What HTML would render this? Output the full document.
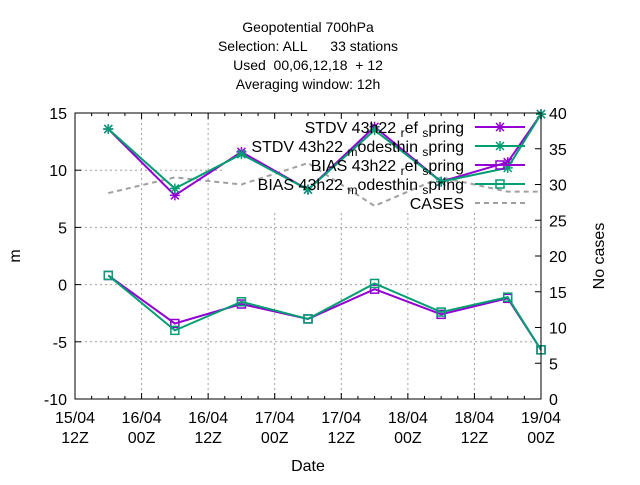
<!DOCTYPE html>
<html><head><meta charset="utf-8"><style>
body{margin:0;background:#fff}
svg{font-family:"Liberation Sans",sans-serif;font-size:16px}
</style></head><body>
<svg id="c" width="640" height="480">
<g text-anchor="middle" font-size="14">
<text x="308" y="32">Geopotential 700hPa</text>
<text x="308" y="51">Selection: ALL &#160; &#160; &#160;33 stations</text>
<text x="308" y="70">Used &#160;00,06,12,18 &#160;+ 12</text>
<text x="308" y="89">Averaging window: 12h</text>
</g>
<g id="grid"></g>
<rect x="224" y="114" width="316" height="98" fill="#fff"/>
<g id="series"></g>
<g id="axes"></g>
<g id="legend"></g>
<text x="20" y="256" transform="rotate(-90 20 256)" text-anchor="middle">m</text>
<text x="604" y="256" transform="rotate(-90 604 256)" text-anchor="middle">No cases</text>
<text x="308" y="471" text-anchor="middle">Date</text>
</svg>
<script>
const xTickLabels=[["15/04","12Z"],["16/04","00Z"],["16/04","12Z"],["17/04","00Z"],["17/04","12Z"],["18/04","00Z"],["18/04","12Z"],["19/04","00Z"]];
const xPos=[0.5,1.5,2.5,3.5,4.5,5.5,6.5,7];
const stdvRef=[13.6,7.8,11.6,8.3,13.8,9.0,10.7,14.9];
const stdvMod=[13.6,8.4,11.4,8.3,13.5,9.0,10.2,14.9];
const biasRef=[0.8,-3.4,-1.7,-3.0,-0.4,-2.6,-1.2,-5.7];
const biasMod=[0.8,-4.0,-1.5,-3.0,0.1,-2.4,-1.1,-5.7];
const cases=[28.8,31,30,33,27,31,29,29];
const yTicks=[-10,-5,0,5,10,15];
const y2Ticks=[0,5,10,15,20,25,30,35,40];

const L=75,R=541,T=113,B=399;
const X=i=>L+(R-L)*i/7;
const Y=v=>B-(B-T)*(v+10)/25;
const Y2=v=>B-(B-T)*v/40;
const NS="http://www.w3.org/2000/svg";
function mk(p,tag,a){const e=document.createElementNS(NS,tag);for(const k in a)e.setAttribute(k,a[k]);p.appendChild(e);return e;}
const grid=document.getElementById('grid'),axes=document.getElementById('axes'),ser=document.getElementById('series'),leg=document.getElementById('legend');
xTickLabels.forEach((t,i)=>{
  const x=X(i);
  if(i>0&&i<7){const g=mk(grid,'line',{x1:x,x2:x,y1:T,y2:B,stroke:'#a0a0a0','stroke-dasharray':'2,3'});
  
  }
  mk(axes,'line',{x1:x,x2:x,y1:B,y2:B-6,stroke:'#000'});
  mk(axes,'line',{x1:x,x2:x,y1:T,y2:T+6,stroke:'#000'});
  if(i<7){for(let k=1;k<4;k++){const xm=X(i+k/4);
    mk(axes,'line',{x1:xm,x2:xm,y1:B,y2:B-3,stroke:'#000'});
    mk(axes,'line',{x1:xm,x2:xm,y1:T,y2:T+3,stroke:'#000'});}}
  const tx=mk(axes,'text',{x:x,y:423,'text-anchor':'middle'});tx.textContent=t[0];
  
  
  const tx2=mk(axes,'text',{x:x,y:443,'text-anchor':'middle'});tx2.textContent=t[1];
  
  
});
yTicks.forEach(v=>{
  const y=Y(v);
  if(v>-10&&v<15){const g=mk(grid,'line',{x1:L,x2:R,y1:y,y2:y,stroke:'#a0a0a0','stroke-dasharray':'2,3'});
  
  }
  mk(axes,'line',{x1:L,x2:L+6,y1:y,y2:y,stroke:'#000'});
  const t=mk(axes,'text',{x:L-8,y:y+6,'text-anchor':'end'});t.textContent=v;
  
  
});
y2Ticks.forEach(v=>{
  const y=Y2(v);
  mk(axes,'line',{x1:R,x2:R-6,y1:y,y2:y,stroke:'#000'});
  const t=mk(axes,'text',{x:R+8,y:y+6});t.textContent=v;
  
  
});
mk(axes,'rect',{x:L,y:T,width:R-L,height:B-T,fill:'none',stroke:'#000'});

function star(g,x,y,c){
  [[-4,-4,4,4],[-4,4,4,-4],[-5,0,5,0],[0,-5,0,5]].forEach(d=>mk(g,'line',{x1:x+d[0],y1:y+d[1],x2:x+d[2],y2:y+d[3],stroke:c,'stroke-width':1.5}));
}
function sq(g,x,y,c){mk(g,'rect',{x:x-4,y:y-4,width:8,height:8,fill:'none',stroke:c,'stroke-width':1.5});}
function series(vals,c,marker,name,yf){
  const g=mk(ser,'g',{});
  
  
  mk(g,'polyline',{points:vals.map((v,i)=>X(xPos[i])+','+yf(v)).join(' '),fill:'none',stroke:c,'stroke-width':2});
  vals.forEach((v,i)=>{if(marker)marker(g,X(xPos[i]),yf(v),c);});
}
const cs=mk(ser,'polyline',{points:cases.map((v,i)=>X(xPos[i])+','+Y2(v)).join(' '),fill:'none',stroke:'#a0a0a0','stroke-width':2,'stroke-dasharray':'5,4'});


series(stdvRef,'#9400d3',star,'stdv-ref-series',Y);
series(stdvMod,'#009e73',star,'stdv-mod-series',Y);
series(biasRef,'#9400d3',sq,'bias-ref-series',Y);
series(biasMod,'#009e73',sq,'bias-mod-series',Y);

const legItems=[["STDV 43h22","r","ef","s","pring",'#9400d3',star],["STDV 43h22","m","odesthin","s","pring",'#009e73',star],["BIAS 43h22","r","ef","s","pring",'#9400d3',sq],["BIAS 43h22","m","odesthin","s","pring",'#009e73',sq]];
legItems.forEach((it,i)=>{
  const y=127+i*19;
  const g=mk(leg,'g',{});
  
  
  const t=mk(g,'text',{x:464,y:y+6,'text-anchor':'end'});
  t.innerHTML=it[0]+' <tspan font-size="12" dy="4">'+it[1]+'</tspan><tspan dy="-4">'+it[2]+' </tspan><tspan font-size="12" dy="4">'+it[3]+'</tspan><tspan dy="-4">'+it[4]+'</tspan>';
  mk(g,'line',{x1:475,x2:525,y1:y,y2:y,stroke:it[5],'stroke-width':2});
  it[6](g,500,y,it[5]);
});
const g=mk(leg,'g',{});


const t=mk(g,'text',{x:464,y:209,'text-anchor':'end'});t.textContent='CASES';
mk(g,'line',{x1:475,x2:525,y1:203,y2:203,stroke:'#a0a0a0','stroke-width':2,'stroke-dasharray':'5,4'});
</script>
</body></html>
